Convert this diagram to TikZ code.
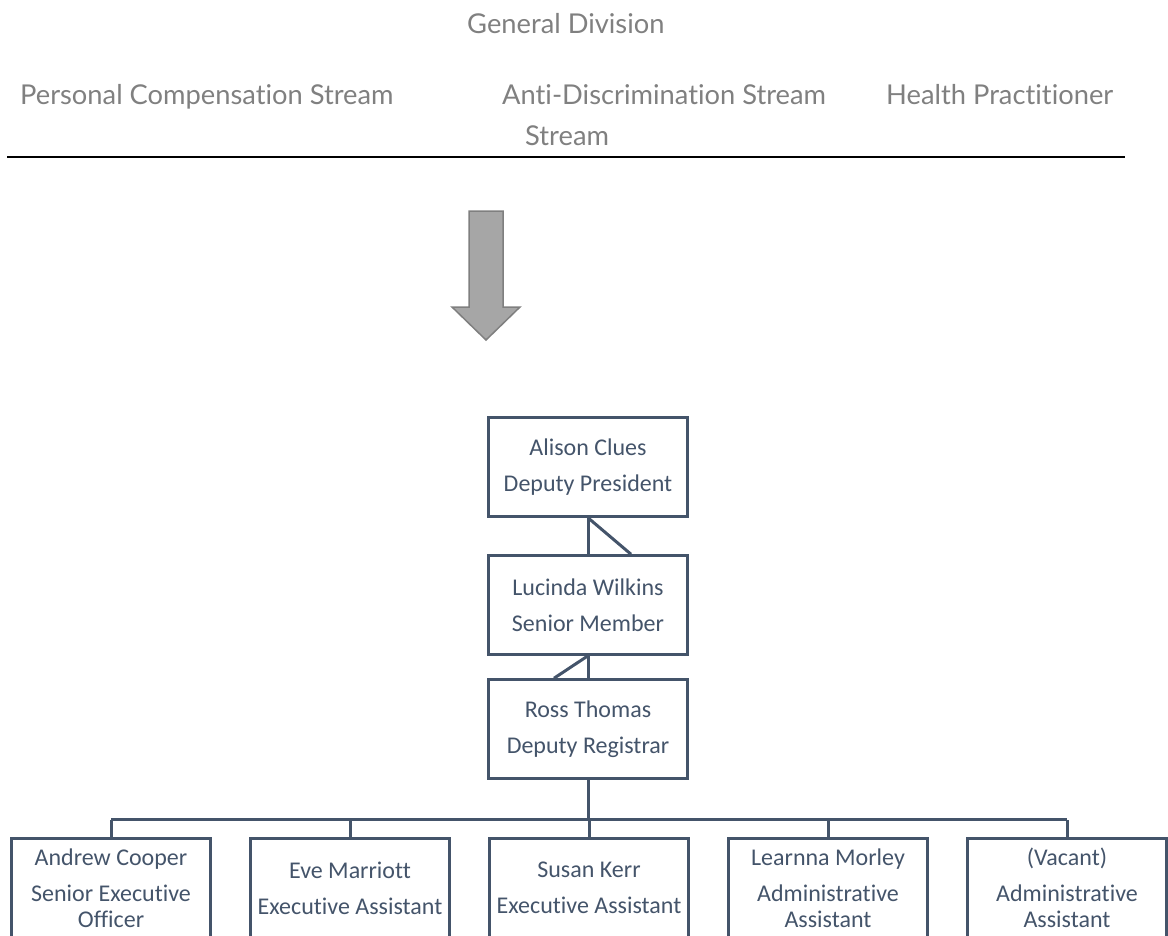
\documentclass[tikz,border=0pt]{standalone}
\usepackage{fontspec}
\setmainfont[RawFeature={-liga;-clig;-calt}]{Carlito}
\newfontfamily\headfont[RawFeature={-liga;-clig;-calt}]{Lato}
\usetikzlibrary{positioning}
\definecolor{slate}{HTML}{44546A}
\definecolor{headgray}{HTML}{808080}
\definecolor{arrowfill}{HTML}{A6A6A6}
\definecolor{arrowline}{HTML}{7F7F7F}
\tikzset{
  head/.style={anchor=base west,inner sep=0pt,text=headgray,
    font=\headfont\fontsize{27.3}{32}\selectfont},
  person/.style={draw=slate,line width=2.5pt,text=slate,align=center,
    minimum width=199pt,minimum height=99pt,inner sep=0pt,
    font=\fontsize{24}{26}\selectfont},
  link/.style={draw=slate,line width=3pt}
}
\begin{document}
\begin{tikzpicture}[x=1pt,y=-1pt]
    \useasboundingbox (0,0) rectangle (1168,935);
    \clip (0,0) rectangle (1168,935);
    % Division and streams
    \node[head] (division) at (467,33) {General Division};
    \node[head] (personal) at (20,104) {Personal Compensation Stream};
    \node[head] (antidisc) at (502,104) {Anti-Discrimination Stream};
    \node[head] (health) at (886,104) {Health Practitioner};
    \node[head] (healthtail) at (525,145) {Stream};
    \draw[line width=2pt] (7,157) -- (1125,157);
    % Big arrow
    \draw[fill=arrowfill,draw=arrowline,line width=1.5pt]
      (469,211) -- (503,211) -- (503,307) -- (520,307) -- (486,340)
      -- (452,307) -- (469,307) -- cycle;
    % Chain of command
    \node[person] (alison) at (588,467) {Alison Clues\\[10pt]Deputy President};
    \node[person] (lucinda) at (588,605) {Lucinda Wilkins\\[10pt]Senior Member};
    \node[person] (ross) at (588,729) {Ross Thomas\\[10pt]Deputy Registrar};
    \draw[link] (alison.south) -- (lucinda.north);
    \draw[link] (alison.south) -- ([xshift=43pt]lucinda.north);
    \draw[link] (lucinda.south) -- (ross.north);
    \draw[link] (lucinda.south) -- ([xshift=-34pt]ross.north);
    % Staff row
    \node[person] (andrew) at (111,888) {Andrew Cooper\\[10pt]Senior Executive\\Officer};
    \node[person] (eve) at (350,888) {Eve Marriott\\[10pt]Executive Assistant};
    \node[person] (susan) at (589,888) {Susan Kerr\\[10pt]Executive Assistant};
    \node[person] (learnna) at (828,888) {Learnna Morley\\[10pt]Administrative\\Assistant};
    \node[person] (vacant) at (1067,888) {(Vacant)\\[10pt]Administrative\\Assistant};
    \draw[link] (ross.south) -- ++(0,40) coordinate (bus);
    \draw[link] (andrew.north |- bus) -- (vacant.north |- bus);
    \foreach \n in {andrew,eve,susan,learnna,vacant}{
      \draw[link] (\n.north) -- (\n.north |- bus);}
\end{tikzpicture}
\end{document}
